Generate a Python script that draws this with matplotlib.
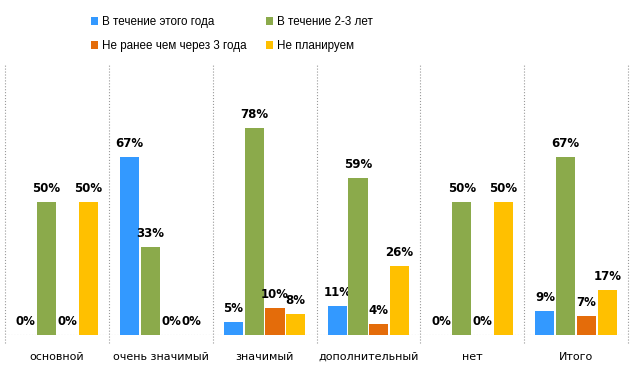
import matplotlib.pyplot as plt
import numpy as np

categories = ['основной', 'очень значимый', 'значимый', 'дополнительный', 'нет', 'Итого']
series_names = ['В течение этого года', 'В течение 2-3 лет',
                'Не ранее чем через 3 года', 'Не планируем']
this_year = [0, 67, 5, 11, 0, 9]
two_three = [50, 33, 78, 59, 50, 67]
after_three = [0, 0, 10, 4, 0, 7]
not_planned = [50, 0, 8, 26, 50, 17]
colors = ['#3399FF', '#8BAA4B', '#E46C0A', '#FFC000']

values = [this_year, two_three, after_three, not_planned]

fig = plt.figure(figsize=(6.3, 3.68), dpi=100)
ax = fig.add_axes([5 / 630, 1 - 335 / 368, 623 / 630, 270 / 368])

x = np.arange(len(categories))
w = 0.2
handles = []
for i, (vals, name, c) in enumerate(zip(values, series_names, colors)):
    pos = x + (i - 1.5) * w
    h = ax.bar(pos, vals, width=w * 0.92, color=c, label=name, zorder=3)
    handles.append(h)
    for px, v in zip(pos, vals):
        ax.annotate(f'{v}%', (px, v), xytext=(0, 5), textcoords='offset points',
                    ha='center', va='bottom', fontsize=8.5, fontweight='bold',
                    color='black')

ax.set_xlim(-0.5, len(categories) - 0.5)
ax.set_ylim(0, 101.5)
for s in ax.spines.values():
    s.set_visible(False)
ax.set_yticks([])
ax.set_xticks(x)
ax.set_xticklabels(categories, fontsize=8)
ax.tick_params(axis='x', length=0, pad=12)

# dotted separators and baseline
for b in np.arange(-0.5, len(categories), 1):
    ax.plot([b, b], [-3, 101.5], ls=':', color='#999999', lw=0.8, clip_on=False)
ax.axhline(0, ls=':', color='#999999', lw=0.8)

# rows: blue/green, orange/yellow
order = [0, 2, 1, 3]
leg = fig.legend([handles[k] for k in order], [series_names[k] for k in order],
                 loc='upper left', bbox_to_anchor=(81 / 630, 0.985), ncol=2,
                 frameon=False, prop={'family': 'Liberation Sans', 'size': 8.4},
                 handlelength=0.6, handleheight=0.6, columnspacing=1.7,
                 labelspacing=1.05, handletextpad=0.3)

fig.savefig('out.png', dpi=100)
